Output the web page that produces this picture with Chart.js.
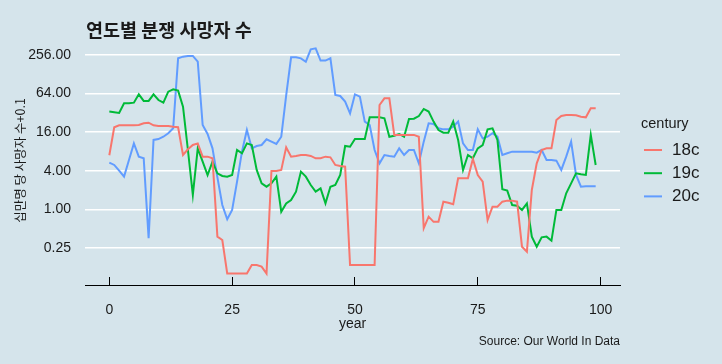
<!DOCTYPE html>
<html lang="ko">
<head>
    <meta charset="UTF-8">
    <title>연도별 분쟁 사망자 수</title>
    <script src="https://cdn.jsdelivr.net/npm/chart.js"></script>
    <style>
        html, body {
            margin: 0;
            padding: 0;
            background-color: #d5e4eb;
        }

        #wrap {
            width: 722px;
            height: 364px;
        }
    </style>
</head>
<body>
    <div id="wrap">
        <canvas id="deathChart" width="722" height="364"></canvas>
    </div>

    <script>
        // years within each century (0 - 99)
        const years = [
            0, 1, 2, 3, 4, 5, 6, 7, 8, 9, 10, 11, 12, 13, 14, 15, 16, 17, 18, 19,
            20, 21, 22, 23, 24, 25, 26, 27, 28, 29, 30, 31, 32, 33, 34, 35, 36, 37, 38, 39,
            40, 41, 42, 43, 44, 45, 46, 47, 48, 49, 50, 51, 52, 53, 54, 55, 56, 57, 58, 59,
            60, 61, 62, 63, 64, 65, 66, 67, 68, 69, 70, 71, 72, 73, 74, 75, 76, 77, 78, 79,
            80, 81, 82, 83, 84, 85, 86, 87, 88, 89, 90, 91, 92, 93, 94, 95, 96, 97, 98, 99
        ];

        // deaths per 100k + 0.1
        const deaths18c = [
            7.0, 19.1, 20.5, 20.5, 20.5, 20.5, 20.7, 22.0, 22.5, 20.5,
            20.0, 20.0, 20.0, 19.5, 19.1, 7.05, 8.65, 10.1, 10.7, 6.64,
            6.64, 6.26, 0.376, 0.333, 0.1, 0.1, 0.1, 0.1, 0.1, 0.136,
            0.136, 0.128, 0.1, 3.97, 3.97, 4.12, 9.29, 6.64, 6.81, 7.05,
            7.05, 6.81, 6.26, 6.26, 6.64, 6.49, 4.93, 4.75, 4.64, 0.136,
            0.136, 0.136, 0.136, 0.136, 0.136, 42.5, 54.0, 54.0, 14.5, 14.5,
            14.5, 14.5, 14.5, 13.6, 0.51, 0.77, 0.64, 0.64, 1.32, 1.27,
            1.20, 3.05, 3.05, 3.05, 6.11, 3.44, 2.71, 0.68, 1.10, 1.10,
            1.32, 1.37, 1.37, 1.32, 0.262, 0.219, 2.01, 5.23, 8.44, 8.96,
            8.96, 24.8, 28.6, 29.7, 29.7, 29.3, 27.9, 27.3, 37.7, 37.7
        ];

        const deaths19c = [
            33.5, 32.7, 31.9, 45.1, 45.1, 46.2, 62.3, 49.1, 49.1, 62.3,
            50.8, 46.2, 68.6, 74.6, 71.1, 40.0, 8.44, 1.68, 8.96, 5.55,
            3.44, 5.55, 3.65, 3.32, 3.24, 3.44, 8.44, 7.49, 10.7, 10.1,
            4.12, 2.55, 2.26, 2.55, 3.24, 0.92, 1.24, 1.40, 1.89, 3.88,
            3.24, 2.40, 1.89, 2.13, 1.24, 2.26, 2.40, 3.44, 9.75, 9.51,
            12.5, 12.5, 12.5, 27.3, 27.3, 27.3, 26.3, 13.6, 14.1, 15.0,
            13.6, 25.7, 26.0, 28.6, 36.8, 33.5, 23.4, 17.3, 15.7, 15.7,
            23.4, 12.1, 4.12, 7.05, 6.26, 8.96, 10.1, 17.7, 18.4, 12.1,
            2.06, 1.96, 1.17, 1.14, 0.98, 1.24, 0.376, 0.262, 0.367, 0.376,
            0.325, 0.98, 0.98, 1.78, 2.55, 3.65, 3.52, 3.44, 14.5, 4.93
        ];

        const deaths20c = [
            5.36, 4.93, 4.02, 3.24, 5.89, 10.7, 6.64, 6.26, 0.354, 12.1,
            12.5, 13.6, 15.4, 18.4, 227, 241, 247, 247, 201, 20.7,
            15.0, 8.96, 3.16, 1.17, 0.70, 0.98, 2.71, 7.95, 17.3, 8.96,
            9.75, 10.1, 12.4, 11.4, 10.5, 13.6, 60.0, 235, 235, 227,
            201, 314, 325, 209, 209, 227, 60.9, 58.7, 47.9, 31.5,
            62.3, 57.3, 23.4, 20.7, 8.44, 5.23, 7.05, 6.81, 6.64, 8.96,
            7.05, 8.44, 8.44, 5.23, 11.4, 22.0, 21.5, 18.4, 17.7, 17.7,
            19.5, 23.4, 10.7, 8.44, 8.44, 17.7, 12.8, 13.6, 15.4, 13.6,
            7.05, 7.49, 7.95, 7.95, 7.95, 7.95, 7.95, 7.67, 8.44, 5.89,
            5.89, 5.76, 4.12, 6.64, 11.4, 3.44, 2.26, 2.3, 2.3, 2.3
        ];

        const centuries = ['18c', '19c', '20c'];
        const lineColors = ['#F8766D', '#00BA38', '#619CFF'];
        const yTicks = [0.25, 1, 4, 16, 64, 256];
        const xTicks = [0, 25, 50, 75, 100];

        const FONT = '"Liberation Sans", Arial, "Noto Sans CJK KR", sans-serif';
        const TEXT = '#1a1a1a';

        function toPoints(values) {
            return years.map((yr, i) => ({ x: yr, y: values[i] }));
        }

        // background, title, caption and legend
        const decorPlugin = {
            id: 'decor',
            beforeDraw(chart) {
                const ctx = chart.ctx;
                ctx.save();
                ctx.fillStyle = '#d5e4eb';
                ctx.fillRect(0, 0, chart.width, chart.height);
                ctx.restore();
            },
            afterDraw(chart) {
                const ctx = chart.ctx;
                ctx.save();
                ctx.fillStyle = TEXT;
                ctx.textBaseline = 'middle';

                ctx.font = 'bold 18.5px "Noto Sans CJK KR", sans-serif';
                ctx.textAlign = 'left';
                ctx.fillText('연도별 분쟁 사망자 수', 86, 29.5);

                ctx.font = '12px ' + FONT;
                ctx.textAlign = 'right';
                ctx.fillText('Source: Our World In Data', 620, 342);

                ctx.textAlign = 'left';
                ctx.font = '14.5px ' + FONT;
                ctx.fillText('century', 641, 124);

                chart.data.datasets.forEach((ds, i) => {
                    const y = 150 + i * 23.2;
                    ctx.strokeStyle = ds.borderColor;
                    ctx.lineWidth = 2;
                    ctx.beginPath();
                    ctx.moveTo(644, y);
                    ctx.lineTo(662, y);
                    ctx.stroke();
                    ctx.font = '17px ' + FONT;
                    ctx.fillText(ds.label, 672, y);
                });
                ctx.restore();
            }
        };

        const ctx = document.getElementById('deathChart').getContext('2d');

        new Chart(ctx, {
            type: 'line',
            data: {
                datasets: [deaths18c, deaths19c, deaths20c].map((values, i) => ({
                    label: centuries[i],
                    data: toPoints(values),
                    borderColor: lineColors[i],
                    backgroundColor: lineColors[i],
                    borderWidth: 2,
                    pointRadius: 0,
                    tension: 0,
                    fill: false
                }))
            },
            options: {
                responsive: false,
                animation: false,
                devicePixelRatio: 1,
                layout: {
                    padding: { left: 9, right: 102, top: 36, bottom: 28 }
                },
                plugins: {
                    legend: { display: false },
                    title: { display: false },
                    tooltip: { enabled: false }
                },
                scales: {
                    x: {
                        type: 'linear',
                        min: -4.95,
                        max: 103.95,
                        afterBuildTicks: scale => {
                            scale.ticks = xTicks.map(v => ({ value: v }));
                        },
                        afterFit: scale => {
                            scale.height = 51;
                        },
                        ticks: {
                            color: TEXT,
                            font: { family: FONT, size: 14 },
                            padding: 25,
                            maxRotation: 0,
                            autoSkip: false
                        },
                        grid: {
                            drawOnChartArea: false,
                            drawTicks: true,
                            tickLength: -8,
                            color: '#000',
                            lineWidth: 1
                        },
                        border: { display: true, color: '#000', width: 1 },
                        title: {
                            display: true,
                            text: 'year',
                            color: TEXT,
                            font: { family: FONT, size: 14 },
                            padding: { top: 0, bottom: 3 }
                        }
                    },
                    y: {
                        type: 'logarithmic',
                        position: 'left',
                        min: 0.0662,
                        max: 506,
                        afterBuildTicks: scale => {
                            scale.ticks = yTicks.map(v => ({ value: v }));
                        },
                        afterFit: scale => {
                            scale.width = 76;
                        },
                        ticks: {
                            color: TEXT,
                            font: { family: FONT, size: 14 },
                            padding: 14,
                            callback: v => Number(v).toFixed(2)
                        },
                        grid: {
                            color: '#ffffff',
                            lineWidth: 1.5,
                            drawTicks: false
                        },
                        border: { display: false },
                        title: {
                            display: true,
                            text: '십만명 당 사망자 수+0.1',
                            color: TEXT,
                            font: { family: '"Noto Sans CJK KR", sans-serif', size: 12.5 },
                            padding: { top: 4, bottom: 4 }
                        }
                    }
                }
            },
            plugins: [decorPlugin]
        });
    </script>
</body>
</html>
